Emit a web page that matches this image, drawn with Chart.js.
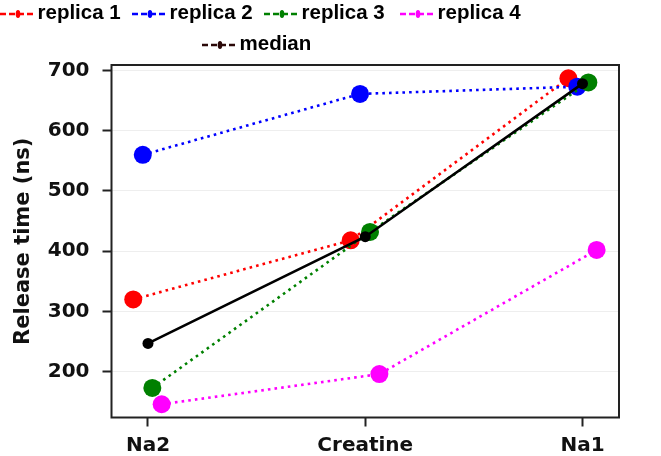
<!DOCTYPE html>
<html><head><meta charset="utf-8">
<script src="https://cdn.jsdelivr.net/npm/chart.js@4/dist/chart.umd.min.js"></script>
<style>html,body{margin:0;padding:0;background:#fff}#wrap{width:661px;height:456px;position:relative}</style>
</head><body><div id="wrap"><canvas id="c"></canvas></div>
<script>
// ---- data ----
const categories = ['Na2', 'Creatine', 'Na1'];
const seriesNames = ['replica 1', 'replica 2', 'replica 3', 'replica 4', 'median'];
const replica1 = [320, 418, 687];
const replica2 = [560, 661, 673];
const replica3 = [173, 432, 680];
const replica4 = [146, 196, 402];
const median   = [247, 424, 678];
// horizontal (jittered) positions of each series around the category index
const replica1X = [-0.068, 0.933, 1.935];
const replica2X = [-0.024, 0.976, 1.976];
const replica3X = [0.020, 1.022, 2.027];
const replica4X = [0.063, 1.065, 2.065];
const medianX   = [0, 1, 2];
const yTicks = [200, 300, 400, 500, 600, 700];
const categoryTicks = [0, 1, 2];

const colors = ['#ff0000', '#0000ff', '#008000', '#ff00ff', '#000000'];
const legendColors = ['#ff0000', '#0000ff', '#008000', '#ff00ff', '#2a0808'];

function pts(xs, ys) { return xs.map((x, i) => ({ x: x, y: ys[i] })); }

function replicaDataset(i, xs, ys, order) {
  return {
    label: seriesNames[i],
    data: pts(xs, ys),
    borderColor: colors[i],
    backgroundColor: colors[i],
    borderWidth: 2.6,
    borderDash: [2.6, 4.1],
    borderCapStyle: 'butt',
    pointRadius: 9,
    pointHoverRadius: 9,
    pointBorderWidth: 0,
    pointBackgroundColor: colors[i],
    tension: 0,
    order: order
  };
}

const datasets = [
  replicaDataset(0, replica1X, replica1, 4),
  replicaDataset(1, replica2X, replica2, 3),
  replicaDataset(2, replica3X, replica3, 2),
  replicaDataset(3, replica4X, replica4, 1),
  {
    label: seriesNames[4],
    data: pts(medianX, median),
    borderColor: colors[4],
    backgroundColor: colors[4],
    borderWidth: 2.6,
    pointRadius: 5.5,
    pointHoverRadius: 5.5,
    pointBorderWidth: 0,
    pointBackgroundColor: colors[4],
    tension: 0,
    order: 0
  }
];

const legendSlots = [[0, 18.5], [132, 18.5], [264, 18.5], [400, 18.5], [202, 49.5]];

const framePlugin = {
  id: 'frame',
  afterDatasetsDraw(chart) {
    const { ctx, chartArea: a } = chart;
    ctx.save();
    ctx.strokeStyle = '#222';
    ctx.lineWidth = 2;
    ctx.strokeRect(a.left, a.top, a.right - a.left, a.bottom - a.top);
    ctx.restore();
  }
};

const legendPlugin = {
  id: 'customLegend',
  afterDraw(chart) {
    const ctx = chart.ctx;
    ctx.save();
    chart.data.datasets.forEach((ds, i) => {
      const [x, base] = legendSlots[i];
      const my = base - 4.5;
      const col = legendColors[i];
      ctx.strokeStyle = col;
      ctx.fillStyle = col;
      ctx.lineWidth = 2.5;
      ctx.setLineDash([6, 3]);
      ctx.beginPath();
      ctx.moveTo(x, my);
      ctx.lineTo(x + 36, my);
      ctx.stroke();
      ctx.setLineDash([]);
      ctx.beginPath();
      ctx.ellipse(x + 18, my, 2.3, 4, 0, 0, Math.PI * 2);
      ctx.fill();
      ctx.fillStyle = '#000';
      ctx.font = 'bold 20.5px "Liberation Sans", Arial, sans-serif';
      ctx.textBaseline = 'alphabetic';
      ctx.textAlign = 'left';
      ctx.fillText(ds.label, x + 37.5, base);
    });
    ctx.restore();
  }
};

const tickFont = { family: '"DejaVu Sans", sans-serif', weight: 'bold', size: 20 };

new Chart(document.getElementById('c'), {
  type: 'line',
  data: { datasets: datasets },
  options: {
    responsive: true,
    maintainAspectRatio: false,
    animation: false,
    events: [],
    layout: { padding: { top: 65, right: 42, left: 0, bottom: 0 } },
    plugins: { legend: { display: false }, tooltip: { enabled: false } },
    scales: {
      x: {
        type: 'linear',
        min: -0.168,
        max: 2.168,
        afterBuildTicks(scale) { scale.ticks = categoryTicks.map(v => ({ value: v })); },
        afterFit(scale) { scale.height = 38.5; },
        ticks: {
          font: tickFont,
          color: '#111',
          padding: 7,
          maxRotation: 0,
          autoSkip: false,
          callback(v) { return categories[Math.round(v)]; }
        },
        grid: { drawOnChartArea: false, drawTicks: true, tickLength: 9, tickColor: '#222', tickWidth: 2 },
        border: { display: false }
      },
      y: {
        type: 'linear',
        min: 124,
        max: 709,
        afterBuildTicks(scale) { scale.ticks = yTicks.map(v => ({ value: v })); },
        afterFit(scale) { scale.width = 111.5; },
        ticks: { font: tickFont, color: '#111', padding: 13 },
        grid: { color: '#eeeeee', lineWidth: 1, tickLength: 9, tickColor: '#222', tickWidth: 2 },
        border: { display: false },
        title: {
          display: true,
          text: 'Release time (ns)',
          font: { family: '"DejaVu Sans", sans-serif', weight: 'bold', size: 21 },
          color: '#111',
          padding: { top: 11, bottom: 0 }
        }
      }
    }
  },
  plugins: [framePlugin, legendPlugin]
});
</script>
</body></html>
